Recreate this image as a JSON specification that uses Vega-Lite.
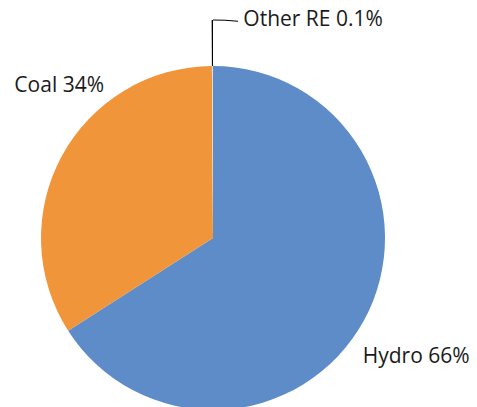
{
  "$schema": "https://vega.github.io/schema/vega-lite/v6.json",
  "autosize": "none",
  "width": 426,
  "height": 476,
  "padding": {"left": 0, "top": 0, "right": 51, "bottom": 0},
  "background": "white",
  "config": {"view": {"stroke": null}},
  "data": {"values": [
    {"source": "Hydro", "value": 66, "label": "Hydro 66%"},
    {"source": "Coal", "value": 34, "label": "Coal 34%"},
    {"source": "Other RE", "value": 0.1, "label": "Other RE 0.1%"}
  ]},
  "layer": [
    {
      "mark": {"type": "arc", "outerRadius": 172},
      "encoding": {
        "theta": {"field": "value", "type": "quantitative", "stack": true},
        "order": {"field": "value", "type": "quantitative", "sort": "descending"},
        "color": {
          "field": "source", "type": "nominal",
          "scale": {"domain": ["Hydro", "Coal", "Other RE"], "range": ["#5e8cc9", "#f0953a", "#dcdcdc"]},
          "legend": null
        }
      }
    },
    {
      "mark": {"type": "arc", "radius": 218, "radius2": 172, "stroke": null},
      "encoding": {
        "theta": {"field": "value", "type": "quantitative", "stack": true},
        "order": {"field": "value", "type": "quantitative", "sort": "descending"},
        "fill": {"condition": {"test": "datum.source === 'Other RE'", "value": "#000000"}, "value": null}
      }
    },
    {
      "data": {"values": [{"part": "leader"}]},
      "mark": {"type": "arc", "theta": 0.0, "theta2": 0.115, "radius": 218.6, "radius2": 217.6, "fill": "#000000", "stroke": null},
      "encoding": {}
    },
    {
      "mark": {"type": "text", "radius": 235, "dx": -3, "dy": 6, "align": "center", "baseline": "middle", "font": "Open Sans", "fontSize": 21, "color": "#1a1a1a"},
      "encoding": {
        "theta": {"field": "value", "type": "quantitative", "stack": true},
        "order": {"field": "value", "type": "quantitative", "sort": "descending"},
        "text": {"condition": {"test": "datum.source === 'Hydro'", "field": "label"}, "value": ""}
      }
    },
    {
      "mark": {"type": "text", "radius": 216, "dx": 36, "dy": -49, "align": "center", "baseline": "middle", "font": "Open Sans", "fontSize": 21, "color": "#1a1a1a"},
      "encoding": {
        "theta": {"field": "value", "type": "quantitative", "stack": true},
        "order": {"field": "value", "type": "quantitative", "sort": "descending"},
        "text": {"condition": {"test": "datum.source === 'Coal'", "field": "label"}, "value": ""}
      }
    },
    {
      "mark": {"type": "text", "radius": 218, "dx": 31, "dy": 0, "align": "left", "baseline": "middle", "font": "Open Sans", "fontSize": 21, "color": "#1a1a1a"},
      "encoding": {
        "theta": {"field": "value", "type": "quantitative", "stack": true},
        "order": {"field": "value", "type": "quantitative", "sort": "descending"},
        "text": {"condition": {"test": "datum.source === 'Other RE'", "field": "label"}, "value": ""}
      }
    }
  ]
}
